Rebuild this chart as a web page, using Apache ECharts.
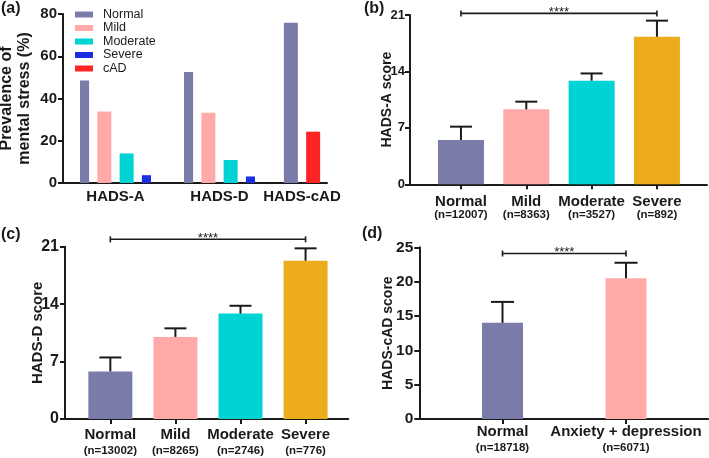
<!DOCTYPE html>
<html><head><meta charset="utf-8">
<script src="https://cdn.jsdelivr.net/npm/echarts@6/dist/echarts.min.js"></script>
<style>html,body{margin:0;padding:0;background:#fff}#c{width:709px;height:458px}</style>
</head><body><div id="c"></div>
<script>
// ---------------- data ----------------
// (a) prevalence of mental stress (%)
const prevLevels = ['Normal', 'Mild', 'Moderate', 'Severe', 'cAD'];
const prevGroups = ['HADS-A', 'HADS-D', 'HADS-cAD'];
const prevHADSALevels = ['Normal', 'Mild', 'Moderate', 'Severe'];
const prevHADSA = [48.5, 33.8, 14.0, 3.7];
const prevHADSDLevels = ['Normal', 'Mild', 'Moderate', 'Severe'];
const prevHADSD = [52.6, 33.3, 10.9, 3.1];
const prevHADScADLevels = ['Normal', 'cAD'];
const prevHADScAD = [75.9, 24.3];
const prevTicks = [0, 20, 40, 60, 80];

// (b) HADS-A score
const scoreCats = ['Normal', 'Mild', 'Moderate', 'Severe'];
const nHADSA = ['12007', '8363', '3527', '892'];
const meanHADSA = [5.5, 9.3, 12.85, 18.3];
const sdHADSA = [1.65, 0.95, 0.9, 2.0];
const ticksHADSA = [0, 7, 14, 21];
const sigHADSA = { from: 'Normal', to: 'Severe', y: 21.2, text: '****' };

// (c) HADS-D score
const nHADSD = ['13002', '8265', '2746', '776'];
const meanHADSD = [5.8, 10.0, 12.85, 19.3];
const sdHADSD = [1.7, 1.05, 0.95, 1.5];
const ticksHADSD = [0, 7, 14, 21];
const sigHADSD = { from: 'Normal', to: 'Severe', y: 21.9, text: '****' };

// (d) HADS-cAD score
const cadCats = ['Normal', 'Anxiety + depression'];
const nHADScAD = ['18718', '6071'];
const meanHADScAD = [14.0, 20.5];
const sdHADScAD = [3.05, 2.25];
const ticksHADScAD = [0, 5, 10, 15, 20, 25];
const sigHADScAD = { from: 'Normal', to: 'Anxiety + depression', y: 24.1, text: '****' };

// ---------------- styles ----------------
const INK = '#1a1a1a';
const FONT = '"Liberation Sans", Arial, Helvetica, sans-serif';
const prevColors = { Normal: '#7b7baa', Mild: '#ffaaa9', Moderate: '#00d3d3', Severe: '#1c2fe0', cAD: '#fe2424' };
const scoreColors = { Normal: '#7b7baa', Mild: '#ffaaa9', Moderate: '#00d3d3', Severe: '#ecac1c', 'Anxiety + depression': '#ffaaa9' };

function box(l, t, w, h) { return { left: l, top: t, width: w, height: h, containLabel: false, outerBoundsMode: 'none' }; }

const grids = [
  box(63, 14, 264, 169),          // 0 a main
  box(80, 14, 71, 169),           // 1 a HADS-A bars
  box(184, 14, 71, 169),          // 2 a HADS-D bars
  box(280, 14, 44, 169),          // 3 a HADS-cAD bars
  box(410, 15, 297, 169.3),       // 4 b main
  box(428.3, 15, 261.3, 169.3),   // 5 b bars
  box(65, 246.7, 283.3, 172.3),   // 6 c main
  box(77.8, 246.7, 260.3, 172.3), // 7 c bars
  box(419.3, 247.3, 289, 171.7),  // 8 d main
  box(440.75, 247.3, 247, 171.7)  // 9 d bars
];

const axisLineStyle = { color: INK, width: 2 };

function mainY(gi, ticks, name, nameSize, nameGap, labelSize, lineH, labelMargin) {
  return {
    type: 'value', gridIndex: gi, min: ticks[0], max: ticks[ticks.length - 1], interval: ticks[1] - ticks[0],
    axisLine: { show: true, lineStyle: axisLineStyle },
    axisTick: { show: true, length: 5, lineStyle: axisLineStyle },
    axisLabel: { color: INK, fontSize: labelSize, fontWeight: 'bold', fontFamily: FONT, margin: labelMargin || 6 },
    splitLine: { show: false },
    name: name, nameLocation: 'middle', nameRotate: 90, nameGap: nameGap, nameMoveOverlap: false,
    nameTextStyle: { color: INK, fontSize: nameSize, fontWeight: 'bold', fontFamily: FONT, lineHeight: lineH || nameSize, align: 'center' }
  };
}
function hiddenY(gi, ticks) {
  return { type: 'value', gridIndex: gi, min: ticks[0], max: ticks[ticks.length - 1], interval: ticks[1] - ticks[0], show: false, splitLine: { show: false } };
}
function mainX(gi) {
  return { type: 'category', gridIndex: gi, data: [''], axisLine: { show: true, lineStyle: axisLineStyle }, axisTick: { show: false }, axisLabel: { show: false }, splitLine: { show: false } };
}
function groupX(gi, label) {
  return {
    type: 'category', gridIndex: gi, data: [label], offset: 3,
    axisLine: { show: true, lineStyle: axisLineStyle }, axisTick: { show: false },
    axisLabel: { color: INK, fontSize: 15, fontWeight: 'bold', fontFamily: FONT, margin: 3 }
  };
}
function catX(gi, cats, ns, margin, la, lb) {
  return {
    type: 'category', gridIndex: gi, data: cats,
    axisLine: { show: false }, axisTick: { show: true, alignWithLabel: true, length: 5, lineStyle: axisLineStyle },
    axisLabel: {
      margin: margin, interval: 0, fontFamily: FONT,
      formatter: (v, i) => '{a|' + v + '}\n{b|(n=' + ns[i] + ')}',
      rich: {
        a: { color: INK, fontSize: 15, fontWeight: 'bold', fontFamily: FONT, lineHeight: la },
        b: { color: INK, fontSize: 11.5, fontWeight: 'bold', fontFamily: FONT, lineHeight: lb }
      }
    }
  };
}

const xAxes = [
  mainX(0), groupX(1, prevGroups[0]), groupX(2, prevGroups[1]), groupX(3, prevGroups[2]),
  mainX(4), catX(5, scoreCats, nHADSA, 10, 15, 12),
  mainX(6), catX(7, scoreCats, nHADSD, 7, 17, 16),
  mainX(8), catX(9, cadCats, nHADScAD, 5, 16, 15)
];
const yAxes = [
  mainY(0, prevTicks, 'Prevalence of\nmental stress (%)', 16, 29, 15, 18),
  hiddenY(1, prevTicks), hiddenY(2, prevTicks), hiddenY(3, prevTicks),
  mainY(4, ticksHADSA, 'HADS-A score', 14, 16, 13, 14, 5),
  hiddenY(5, ticksHADSA),
  mainY(6, ticksHADSD, 'HADS-D score', 15, 20, 16),
  hiddenY(7, ticksHADSD),
  mainY(8, ticksHADScAD, 'HADS-cAD score', 14, 24, 15.5),
  hiddenY(9, ticksHADScAD)
];

const series = [];
function prevGroupSeries(gi, levels, values) {
  levels.forEach((lv, i) => {
    series.push({
      type: 'bar', name: lv, xAxisIndex: gi, yAxisIndex: gi, data: [values[i]],
      barWidth: 14, barGap: '59%', itemStyle: { color: prevColors[lv] }
    });
  });
}
prevGroupSeries(1, prevHADSALevels, prevHADSA);
prevGroupSeries(2, prevHADSDLevels, prevHADSD);
prevGroupSeries(3, prevHADScADLevels, prevHADScAD);

function scorePanel(gi, cats, means, sds, barW, capHalf, sig) {
  series.push({
    type: 'bar', xAxisIndex: gi, yAxisIndex: gi, barWidth: barW,
    data: means.map((m, i) => ({ value: m, itemStyle: { color: scoreColors[cats[i]] } }))
  });
  series.push({
    type: 'custom', xAxisIndex: gi, yAxisIndex: gi, clip: false, z: 5,
    data: means.map((m, i) => [cats[i], m, sds[i]]),
    renderItem: function (params, api) {
      const x = api.value(0), m = api.value(1), s = api.value(2);
      const b = api.coord([x, m]), t = api.coord([x, m + s]);
      return { type: 'group', children: [
        { type: 'line', shape: { x1: b[0], y1: b[1], x2: t[0], y2: t[1] }, style: { stroke: INK, lineWidth: 2 } },
        { type: 'line', shape: { x1: t[0] - capHalf, y1: t[1], x2: t[0] + capHalf, y2: t[1] }, style: { stroke: INK, lineWidth: 2 } }
      ] };
    }
  });
  series.push({
    type: 'custom', xAxisIndex: gi, yAxisIndex: gi, clip: false, z: 5,
    data: [[sig.from, sig.y, cats.indexOf(sig.to)]],
    renderItem: function (params, api) {
      const a = api.coord([api.value(0), api.value(1)]);
      const b = api.coord([api.value(2), api.value(1)]);
      const st = { stroke: INK, lineWidth: 1.6 };
      return { type: 'group', children: [
        { type: 'line', shape: { x1: a[0], y1: a[1], x2: b[0], y2: b[1] }, style: st },
        { type: 'line', shape: { x1: a[0], y1: a[1] - 3, x2: a[0], y2: a[1] + 3 }, style: st },
        { type: 'line', shape: { x1: b[0], y1: b[1] - 3, x2: b[0], y2: b[1] + 3 }, style: st },
        { type: 'text', style: { x: (a[0] + b[0]) / 2, y: a[1] - 1.3, text: sig.text, fill: INK, fontSize: 13, fontFamily: FONT, textAlign: 'center', textVerticalAlign: 'middle' } }
      ] };
    }
  });
}
scorePanel(5, scoreCats, meanHADSA, sdHADSA, 46, 11, sigHADSA);
scorePanel(7, scoreCats, meanHADSD, sdHADSD, 44, 11, sigHADSD);
scorePanel(9, cadCats, meanHADScAD, sdHADScAD, 41, 11.5, sigHADScAD);

const titleStyle = { color: INK, fontSize: 16, fontWeight: 'bold', fontFamily: FONT };
const option = {
  animation: false,
  backgroundColor: '#ffffff',
  title: [
    { text: '(a)', left: 1, top: 1, padding: 0, textStyle: titleStyle },
    { text: '(b)', left: 364, top: 1, padding: 0, textStyle: titleStyle },
    { text: '(c)', left: 1, top: 227, padding: 0, textStyle: titleStyle },
    { text: '(d)', left: 362, top: 226, padding: 0, textStyle: titleStyle }
  ],
  legend: {
    data: prevLevels, orient: 'vertical', left: 75, top: 8, padding: 0,
    itemWidth: 18, itemHeight: 6, itemGap: 0.5, icon: 'rect', selectedMode: false,
    textStyle: { color: INK, fontSize: 12.5, fontFamily: FONT, lineHeight: 11, padding: [0, 0, 0, 5] }
  },
  grid: grids, xAxis: xAxes, yAxis: yAxes, series: series
};
const chart = echarts.init(document.getElementById('c'), null, { renderer: 'canvas' });
chart.setOption(option);
</script></body></html>
